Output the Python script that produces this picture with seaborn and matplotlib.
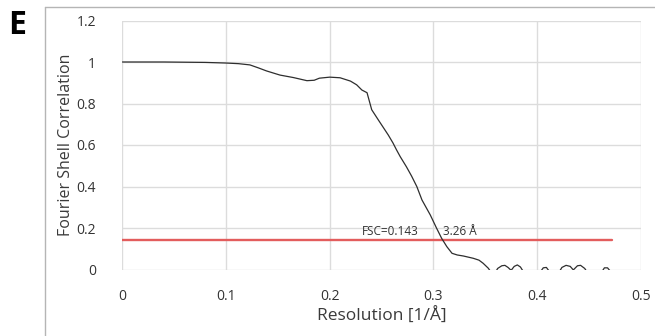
import matplotlib
matplotlib.use("Agg")
import matplotlib.pyplot as plt
import seaborn as sns
import pandas as pd
from matplotlib.lines import Line2D

# ---- data ----
resolution = [0.0, 0.02, 0.04, 0.06, 0.08, 0.1, 0.112, 0.123, 0.131, 0.139, 0.152,
              0.165, 0.178, 0.185, 0.19, 0.2, 0.21, 0.22, 0.226, 0.231, 0.236,
              0.2405, 0.247, 0.2565, 0.261, 0.2645, 0.268, 0.274, 0.279, 0.284,
              0.289, 0.297, 0.303, 0.308, 0.313, 0.318, 0.323, 0.329, 0.3385,
              0.344, 0.348, 0.353, 0.358, 0.362, 0.366, 0.369, 0.372, 0.375,
              0.378, 0.381, 0.384, 0.388, 0.395, 0.402, 0.406, 0.409, 0.412,
              0.418, 0.424, 0.428, 0.432, 0.435, 0.439, 0.442, 0.446, 0.452,
              0.46, 0.465, 0.468, 0.471, 0.475]
fsc = [1.0, 1.0, 1.0, 0.999, 0.998, 0.995, 0.992, 0.986, 0.972, 0.957, 0.937,
       0.925, 0.91, 0.912, 0.922, 0.927, 0.924, 0.908, 0.89, 0.865, 0.852,
       0.77, 0.72, 0.648, 0.61, 0.576, 0.544, 0.495, 0.45, 0.40,
       0.335, 0.263, 0.2, 0.15, 0.11, 0.078, 0.07, 0.065, 0.054,
       0.045, 0.03, 0.006, -0.03, 0.005, 0.018, 0.02, 0.01, -0.004,
       0.015, 0.022, 0.012, -0.02, -0.05, -0.02, 0.008, 0.01, -0.01,
       -0.04, 0.01, 0.02, 0.015, -0.002, 0.018, 0.02, 0.005, -0.04,
       -0.03, 0.008, 0.008, -0.01, -0.04]
threshold_x = [0.0, 0.472]
threshold_y = [0.143, 0.143]
x_ticks = [0, 0.1, 0.2, 0.3, 0.4, 0.5]
x_tick_labels = ["0", "0.1", "0.2", "0.3", "0.4", "0.5"]
y_ticks = [0, 0.2, 0.4, 0.6, 0.8, 1.0, 1.2]
y_tick_labels = ["0", "0.2", "0.4", "0.6", "0.8", "1", "1.2"]

sns.set_theme(style="white")
plt.rcParams['font.family'] = ['Open Sans', 'DejaVu Sans']

fig = plt.figure(figsize=(6.55, 3.36), dpi=100)
ax = fig.add_axes([122.4 / 655, 1 - 269.5 / 336, (640.7 - 122.4) / 655, (269.5 - 20.5) / 336])

df = pd.DataFrame({"res": resolution, "fsc": fsc})
thr = pd.DataFrame({"res": threshold_x, "fsc": threshold_y})

sns.lineplot(data=thr, x="res", y="fsc", ax=ax, color="#e35d5d", linewidth=1.7,
             estimator=None, zorder=3)
sns.lineplot(data=df, x="res", y="fsc", ax=ax, color="#2e2e2e", linewidth=0.9,
             estimator=None, zorder=4)

ax.set_xlim(0, 0.5)
ax.set_ylim(0, 1.2)
ax.set_xticks(x_ticks)
ax.set_xticklabels(x_tick_labels)
ax.set_yticks(y_ticks)
ax.set_yticklabels(y_tick_labels)
ax.grid(True, color="#dcdcdc", linewidth=1.0)
ax.set_axisbelow(True)
for s in ax.spines.values():
    s.set_visible(False)
ax.tick_params(axis="both", length=0, labelsize=10, colors="#333333")
ax.tick_params(axis="y", pad=19)
ax.tick_params(axis="x", pad=14)

ax.set_xlabel("Resolution [1/Å]", fontsize=12.5, color="#3a3a3a", labelpad=3)
ax.set_ylabel("Fourier Shell Correlation", fontsize=11.5, color="#3a3a3a", labelpad=2)

ax.text(0.231, 0.153, "FSC=0.143", fontsize=8.5, color="#333333", ha="left", va="bottom")
ax.text(0.309, 0.153, "3.26 Å", fontsize=8.5, color="#333333", ha="left", va="bottom")

# panel frame
fig.add_artist(Line2D([45 / 655, 45 / 655], [0, 1 - 7 / 336], color="#b5b5b5", linewidth=1.0))
fig.add_artist(Line2D([45 / 655, 1], [1 - 7 / 336, 1 - 7 / 336], color="#b5b5b5", linewidth=1.0))
fig.text(8 / 655, 1 - 25 / 336, "E", fontsize=23, fontweight="bold", color="black",
         ha="left", va="center")

fig.savefig("out.png", dpi=100)
